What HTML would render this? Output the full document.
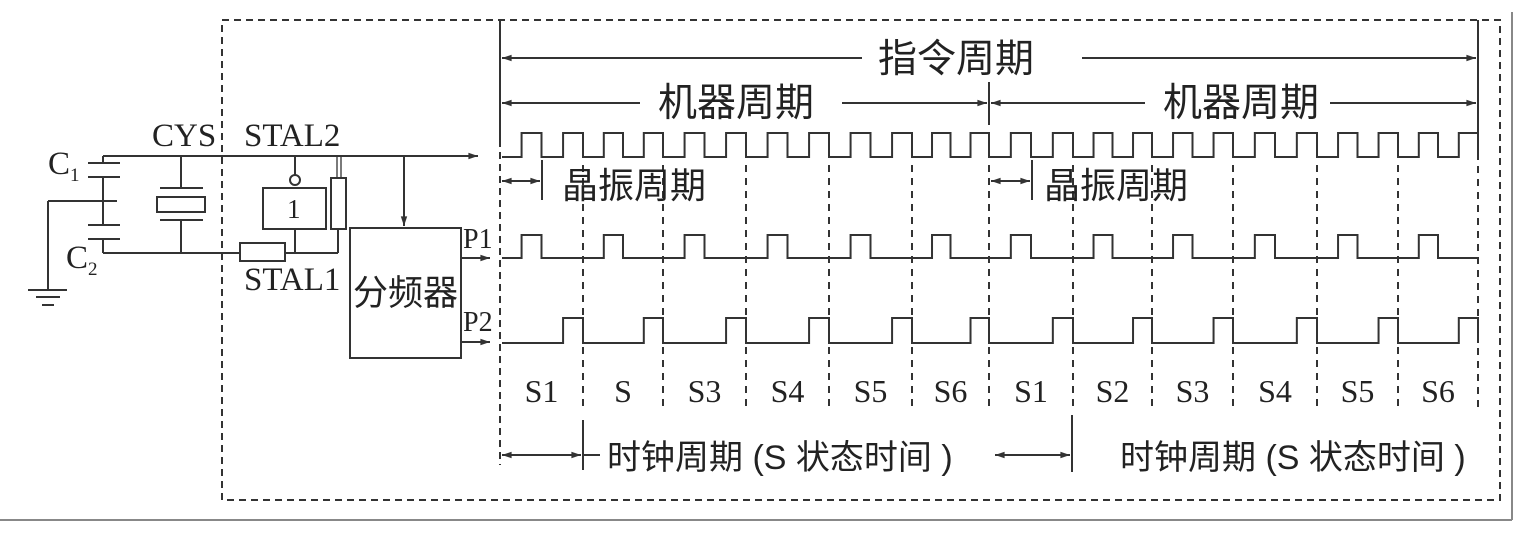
<!DOCTYPE html>
<html><head><meta charset="utf-8"><style>
html,body{margin:0;padding:0;background:#fff;}
svg{display:block;}
.t{font-family:"Liberation Serif",serif;fill:#222;}
.c{font-family:"Liberation Sans","Noto Sans CJK SC",sans-serif;fill:#222;}
</style></head><body>
<svg width="1536" height="538" viewBox="0 0 1536 538" xmlns="http://www.w3.org/2000/svg">
<defs>
<marker id="a" viewBox="0 0 12 10" refX="12" refY="5" markerWidth="12" markerHeight="8" orient="auto-start-reverse" markerUnits="userSpaceOnUse"><path d="M0,1 L12,5 L0,9 Z" fill="#333"/></marker>
</defs>
<g stroke="#333" stroke-width="2" fill="none">
<path d="M222,20 H1500 V500 H222 Z" stroke-dasharray="7,5"/>
<line x1="1512" y1="12" x2="1512" y2="520" stroke="#888"/>
<line x1="0" y1="520" x2="1512" y2="520" stroke="#888"/>
<line x1="500" y1="20" x2="500" y2="140"/>
<line x1="500" y1="140" x2="500" y2="465" stroke-dasharray="7,5"/>
<line x1="1478" y1="20" x2="1478" y2="135"/>
<line x1="502" y1="58" x2="862" y2="58" marker-start="url(#a)"/>
<line x1="1082" y1="58" x2="1476" y2="58" marker-end="url(#a)"/>
<line x1="502" y1="103" x2="640" y2="103" marker-start="url(#a)"/>
<line x1="842" y1="103" x2="987" y2="103" marker-end="url(#a)"/>
<line x1="989" y1="82" x2="989" y2="125"/>
<line x1="991" y1="103" x2="1145" y2="103" marker-start="url(#a)"/>
<line x1="1330" y1="103" x2="1476" y2="103" marker-end="url(#a)"/>
</g>
<g stroke="#333" stroke-width="2" fill="none" id="waves"></g>
<g stroke="#333" stroke-width="2" fill="none">
<line x1="502" y1="181" x2="540" y2="181" marker-start="url(#a)" marker-end="url(#a)"/>
<line x1="542" y1="160" x2="542" y2="200"/>
<line x1="991" y1="181" x2="1030" y2="181" marker-start="url(#a)" marker-end="url(#a)"/>
<line x1="1032" y1="160" x2="1032" y2="200"/>
<line x1="502" y1="455" x2="581" y2="455" marker-start="url(#a)" marker-end="url(#a)"/>
<line x1="583" y1="420" x2="583" y2="470"/>
<line x1="583" y1="455" x2="600" y2="455"/>
<line x1="995" y1="455" x2="1070" y2="455" marker-start="url(#a)" marker-end="url(#a)"/>
<line x1="1072" y1="415" x2="1072" y2="472"/>
<line x1="103" y1="156" x2="478" y2="156" marker-end="url(#a)"/>
<line x1="103" y1="156" x2="103" y2="163"/>
<line x1="88" y1="163" x2="120" y2="163"/>
<line x1="88" y1="177" x2="120" y2="177"/>
<line x1="103" y1="177" x2="103" y2="225"/>
<line x1="48" y1="201" x2="117" y2="201"/>
<line x1="48" y1="201" x2="48" y2="290"/>
<line x1="28" y1="290" x2="67" y2="290"/>
<line x1="36" y1="297" x2="60" y2="297"/>
<line x1="42" y1="305" x2="54" y2="305"/>
<line x1="88" y1="225" x2="120" y2="225"/>
<line x1="88" y1="239" x2="120" y2="239"/>
<line x1="103" y1="239" x2="103" y2="253"/>
<line x1="103" y1="253" x2="240" y2="253"/>
<line x1="181" y1="156" x2="181" y2="188"/>
<line x1="160" y1="188" x2="203" y2="188"/>
<rect x="157" y="197" width="48" height="15"/>
<line x1="160" y1="220" x2="203" y2="220"/>
<line x1="181" y1="220" x2="181" y2="253"/>
<rect x="240" y="243" width="45" height="18"/>
<line x1="285" y1="253" x2="338" y2="253"/>
<line x1="295" y1="156" x2="295" y2="175"/>
<circle cx="295" cy="180" r="5"/>
<rect x="263" y="188" width="63" height="41"/>
<line x1="295" y1="229" x2="295" y2="253"/>
<rect x="331" y="178" width="15" height="51"/>
<line x1="337" y1="156" x2="337" y2="178" stroke-width="1.3"/>
<line x1="341" y1="156" x2="341" y2="178" stroke-width="1.3"/>
<line x1="338" y1="229" x2="338" y2="253"/>
<line x1="404" y1="156" x2="404" y2="226" marker-end="url(#a)"/>
<rect x="350" y="228" width="111" height="130"/>
<line x1="461" y1="258" x2="490" y2="258" marker-end="url(#a)"/>
<line x1="461" y1="342" x2="490" y2="342" marker-end="url(#a)"/>
</g>
<text class="t" x="152" y="146" font-size="33">CYS</text>
<text class="t" x="244" y="146" font-size="33">STAL2</text>
<text class="t" x="48" y="174" font-size="33">C<tspan font-size="19" dy="7">1</tspan></text>
<text class="t" x="66" y="268" font-size="33">C<tspan font-size="19" dy="7">2</tspan></text>
<text class="t" x="244" y="290" font-size="33">STAL1</text>
<text class="t" x="287" y="218" font-size="27">1</text>
<text class="c" x="353" y="305" font-size="35">分频器</text>
<text class="t" x="463" y="248" font-size="28">P1</text>
<text class="t" x="463" y="331" font-size="28">P2</text>
<text class="c" x="878" y="72" font-size="39">指令周期</text>
<text class="c" x="658" y="116" font-size="39">机器周期</text>
<text class="c" x="1163" y="116" font-size="39">机器周期</text>
<text class="c" x="562" y="198" font-size="36">晶振周期</text>
<text class="c" x="1044" y="198" font-size="36">晶振周期</text>
<text class="c" x="607" y="469" font-size="34">时钟周期 (S 状态时间 )</text>
<text class="c" x="1120" y="469" font-size="34">时钟周期 (S 状态时间 )</text>
<g class="t" font-size="32" text-anchor="middle" id="slabels"></g>
<script>
var B=[500,583,663,746,829,912,989,1073,1152,1233,1317,1398,1478];
var ns="http://www.w3.org/2000/svg";
var g=document.getElementById('waves');
function P(d,dash){var p=document.createElementNS(ns,'path');p.setAttribute('d',d);if(dash)p.setAttribute('stroke-dasharray','7,6');g.appendChild(p);}
var clk="M502,157",p1="M502,258",p2="M502,343";
for(var i=0;i<12;i++){var a=B[i],b=B[i+1],m=(a+b)/2,w=(b-a)*0.24;
clk+=" H"+(m-w)+" V133 H"+m+" V157 H"+(b-w)+" V133 H"+b+" V157";
p1+=" H"+(m-w)+" V235 H"+m+" V258";
p2+=" H"+(b-w)+" V318 H"+b+" V343";}
clk+=" H1478";p1+=" H1478";p2+=" H1478";
P(clk);P(p1);P(p2);
for(var i=1;i<12;i++){P("M"+B[i]+",165 V410",true);}
P("M1478,140 V410",true);
var L=["S1","S","S3","S4","S5","S6","S1","S2","S3","S4","S5","S6"];
var sg=document.getElementById('slabels');
for(var i=0;i<12;i++){var t=document.createElementNS(ns,'text');t.setAttribute('x',(B[i]+B[i+1])/2);t.setAttribute('y',402);t.textContent=L[i];sg.appendChild(t);}
</script>
</svg>
</body></html>
